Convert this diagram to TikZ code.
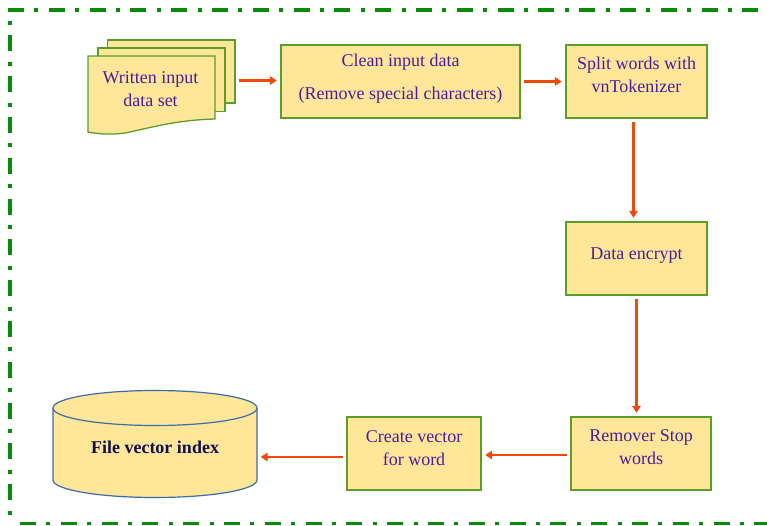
\documentclass[tikz,border=0pt]{standalone}
\usepackage{fontspec}
\setmainfont{Liberation Serif}
\usetikzlibrary{arrows.meta}
\definecolor{fillY}{HTML}{FFE699}
\definecolor{edgeG}{HTML}{5A9E28}
\definecolor{edgeB}{HTML}{3A6EA5}
\definecolor{txtP}{HTML}{4B1E9E}
\definecolor{txtN}{HTML}{10104F}
\definecolor{arrowR}{HTML}{EE4A0A}
\definecolor{frameG}{HTML}{0A8A0A}
\newcommand{\placed}[2]{\smash{\raisebox{#1}{\begin{tabular}{@{}c@{}}#2\end{tabular}}}}
\tikzset{
  x=1pt,y=-1pt,
  box/.style={draw=edgeG,fill=fillY,line width=1.4pt,minimum height=73pt,inner sep=0pt,text=txtP,font=\fontsize{18}{23}\selectfont},
  sheet/.style={draw=edgeG,fill=fillY,line width=1.3pt},
  cyl/.style={draw=edgeB,fill=fillY,line width=1.2pt},
  flow/.style={draw=arrowR,line width=2.2pt,-{Triangle[length=7pt,width=8.5pt]},shorten <=3.5pt,shorten >=3.5pt},
  frame/.style={draw=frameG,line width=3.5pt,dash pattern=on 16pt off 10.4pt on 4pt off 10.4pt},
  leftframe/.style={draw=frameG,line width=3.5pt,dash pattern=on 4pt off 10.4pt on 16pt off 10.4pt}
}
\begin{document}
\begin{tikzpicture}
\useasboundingbox (0,0) rectangle (767,525);
\fill[white] (0,0) rectangle (767,525);
\draw[frame] (8,10) -- (767,10);
\draw[leftframe] (10,21) -- (10,523);
\draw[frame] (20,523.5) -- (767,523.5);
% document stack
\draw[sheet] (107.5,40) rectangle (235,103);
\draw[sheet] (98,48) rectangle (225,111.5);
\draw[sheet] (88,56) -- (215,56) -- (215,119) .. controls (175,120) and (150,128) .. (125,133) .. controls (110,135) and (98,134) .. (88,132) -- cycle;
\node[text=txtP,font=\fontsize{18}{23}\selectfont,inner sep=0pt] (inputtext) at (150.5,90.5) {\begin{tabular}{@{}c@{}}Written input\\data set\end{tabular}};
\node[minimum width=147pt,minimum height=95pt,inner sep=0pt] (input) at (161.5,87.5) {};
% boxes
\node[box,minimum width=239pt] (clean) at (400.5,81.5) {\placed{-1pt}{Clean input data\\[10pt](Remove special characters)}};
\node[box,minimum width=141pt] (split) at (636.5,81.5) {\placed{0.5pt}{Split words with\\vnTokenizer}};
\node[box,minimum width=141pt] (encrypt) at (636.5,258.5) {\placed{-0.5pt}{Data encrypt}};
\node[box,minimum width=140pt] (stop) at (641,453.5) {\placed{1pt}{Remover Stop\\words}};
\node[box,minimum width=134pt] (create) at (414,453.5) {\placed{0pt}{Create vector\\for word}};
% cylinder
\draw[cyl] (53,408) -- (53,480) arc[start angle=180,end angle=360,x radius=102,y radius=-17.5] -- (257,408);
\draw[cyl] (155,408) ellipse[x radius=102,y radius=17.5];
\node[font=\fontsize{18}{22}\selectfont\bfseries,text=txtN,inner sep=0pt] (index) at (155,447) {File vector index};
\node[minimum width=204pt,minimum height=107pt,inner sep=0pt] (db) at (155,444.5) {};
% connectors (the y axis points down, so a positive yshift moves up)
\draw[flow] ([yshift=1pt]input.east |- clean.west) -- ([yshift=1pt]clean.west);
\draw[flow] (clean.east) -- (split.west);
\draw[flow] ([xshift=-3pt]split.south) -- ([xshift=-3pt]encrypt.north);
\draw[flow] (encrypt.south) -- (encrypt.south |- stop.north);
\draw[flow] ([yshift=-1.5pt]stop.west) -- ([yshift=-1.5pt]create.east);
\draw[flow] ([yshift=-3.5pt]create.west) -- ([yshift=-3.5pt]create.west -| db.east);
\end{tikzpicture}
\end{document}
